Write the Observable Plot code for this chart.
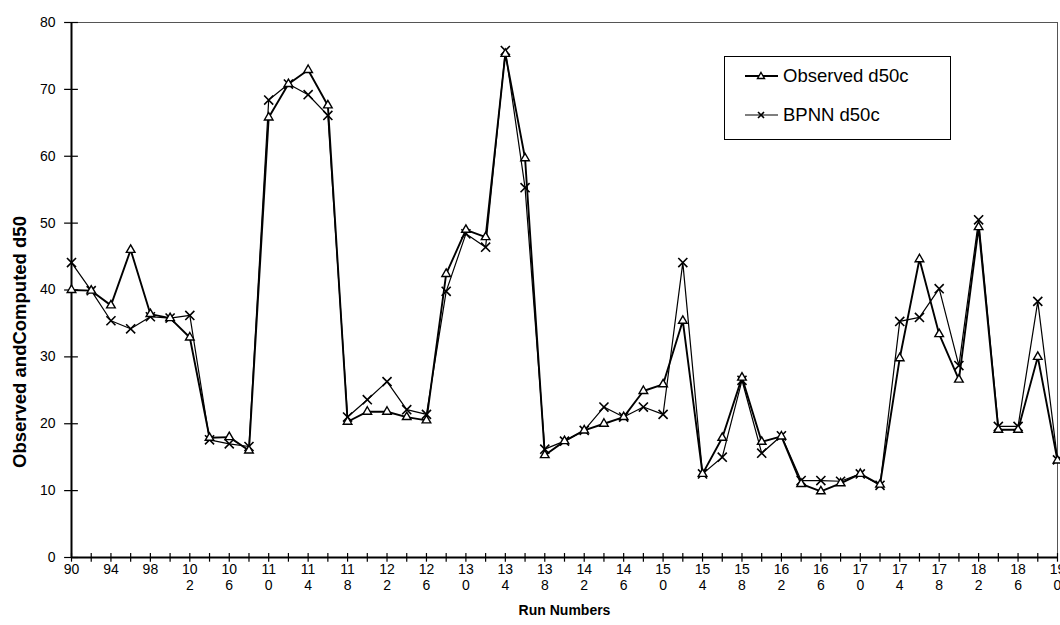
<!DOCTYPE html>
<html><head><meta charset="utf-8">
<script src="https://cdn.jsdelivr.net/npm/d3@7"></script>
<script src="https://cdn.jsdelivr.net/npm/@observablehq/plot@0.6"></script>
<style>
body{margin:0;background:#fff;}
#wrap{position:relative;width:1060px;height:625px;font-family:"Liberation Sans",Arial,sans-serif;}
#legend{position:absolute;left:724px;top:56px;width:227px;height:84px;border:1px solid #000;background:#fff;box-sizing:border-box;}
#legend .row{position:absolute;left:20px;display:flex;align-items:center;font-size:18.5px;color:#000;white-space:nowrap;}
#legend svg{margin-right:5px;}
</style></head>
<body><div id="wrap"><div id="legend"></div></div>
<script>
const runs = [90,92,94,96,98,100,102,104,106,108,110,112,114,116,118,120,122,124,126,128,130,132,134,136,138,140,142,144,146,148,150,152,154,156,158,160,162,164,166,168,170,172,174,176,178,180,182,184,186,188,190];
const observed = [40.0,39.9,37.7,46.0,36.4,35.8,32.9,17.9,18.0,16.0,65.8,70.8,72.9,67.6,20.3,21.8,21.8,21.0,20.5,42.4,49.0,47.9,75.3,59.7,15.3,17.4,19.0,20.0,21.0,24.9,25.9,35.4,12.5,17.9,26.9,17.3,18.1,11.0,9.9,11.1,12.5,10.9,29.8,44.6,33.4,26.6,49.4,19.1,19.1,30.0,14.5];
const bpnn = [44.1,39.9,35.4,34.2,36.0,35.8,36.2,17.6,17.0,16.6,68.4,70.8,69.2,66.1,21.0,23.6,26.3,22.1,21.4,39.8,48.4,46.4,75.8,55.3,16.2,17.4,19.0,22.5,21.0,22.5,21.4,44.1,12.5,15.0,26.5,15.6,18.2,11.5,11.5,11.4,12.5,10.8,35.3,35.9,40.2,28.7,50.5,19.6,19.6,38.3,14.6];
const yTicks = [0,10,20,30,40,50,60,70,80];
const labelRuns = [90,94,98,102,106,110,114,118,122,126,130,134,138,142,146,150,154,158,162,166,170,174,178,182,186,190];
const tickLabels = ["90","94","98","10\n2","10\n6","11\n0","11\n4","11\n8","12\n2","12\n6","13\n0","13\n4","13\n8","14\n2","14\n6","15\n0","15\n4","15\n8","16\n2","16\n6","17\n0","17\n4","17\n8","18\n2","18\n6","19\n0"];
const seriesNames = ["Observed d50c","BPNN d50c"];
const xTitle = "Run Numbers";
const yTitle = "Observed andComputed d50";

const obsData = runs.map((r,i)=>({run:r, v:observed[i]}));
const bpData = runs.map((r,i)=>({run:r, v:bpnn[i]}));

const chart = Plot.plot({
  width:1060, height:625,
  marginLeft:71, marginRight:3, marginTop:22, marginBottom:68,
  style:{fontFamily:"'Liberation Sans', Arial, sans-serif", fontSize:"14px", background:"white", color:"#000"},
  x:{domain:[90,190]},
  y:{domain:[0,80]},
  marks:[
    Plot.frame({stroke:"#555", strokeWidth:1}),
    Plot.axisY({ticks:yTicks, tickSize:0, tickPadding:16, label:null, fontSize:14}),
    Plot.axisX({ticks:labelRuns, tickFormat:d=>tickLabels[labelRuns.indexOf(d)], tickSize:0, tickPadding:6, label:null, fontSize:14, lineHeight:1.1}),
    Plot.ruleY(yTicks, {y:d=>d, x1:89.3, x2:90.7, stroke:"#000", strokeWidth:1.2}),
    Plot.ruleX(runs, {x:d=>d, y1:-0.7, y2:0.6, stroke:"#000", strokeWidth:1.2}),
    Plot.ruleX([90], {stroke:"#000", strokeWidth:2}),
    Plot.ruleY([0], {stroke:"#000", strokeWidth:2}),
    Plot.line(bpData, {x:"run", y:"v", stroke:"#000", strokeWidth:1.2}),
    Plot.line(obsData, {x:"run", y:"v", stroke:"#000", strokeWidth:1.9}),
    Plot.dot(bpData, {x:"run", y:"v", symbol:"times", r:4.2, stroke:"#000", strokeWidth:1.6}),
    Plot.dot(obsData, {x:"run", y:"v", symbol:"triangle", r:3.2, stroke:"#000", fill:"white", strokeWidth:1.4}),
    Plot.text([xTitle], {frameAnchor:"bottom", dy:57, fontWeight:"bold", fontSize:14, fill:"#000"}),
    Plot.text([yTitle], {frameAnchor:"left", textAnchor:"middle", dx:-51, dy:52, rotate:-90, fontWeight:"bold", fontSize:18.5, fill:"#000"})
  ]
});
document.getElementById("wrap").prepend(chart);

const leg = document.getElementById("legend");
const tops = [8, 47];
seriesNames.forEach((name,i)=>{
  const row = document.createElement("div");
  row.className = "row";
  row.style.top = tops[i] + "px";
  const sym = i===0
    ? '<polygon points="16,5.5 19.5,11.5 12.5,11.5" fill="white" stroke="#000" stroke-width="1.4"/>'
    : '<path d="M13,6 L19,12 M19,6 L13,12" stroke="#000" stroke-width="1.6"/>';
  row.innerHTML = '<svg width="33" height="18"><line x1="0" y1="9" x2="33" y2="9" stroke="#000" stroke-width="'+(i===0?1.9:1.2)+'"/>'+sym+'</svg><span>'+name+'</span>';
  leg.appendChild(row);
});
</script>
</body></html>
